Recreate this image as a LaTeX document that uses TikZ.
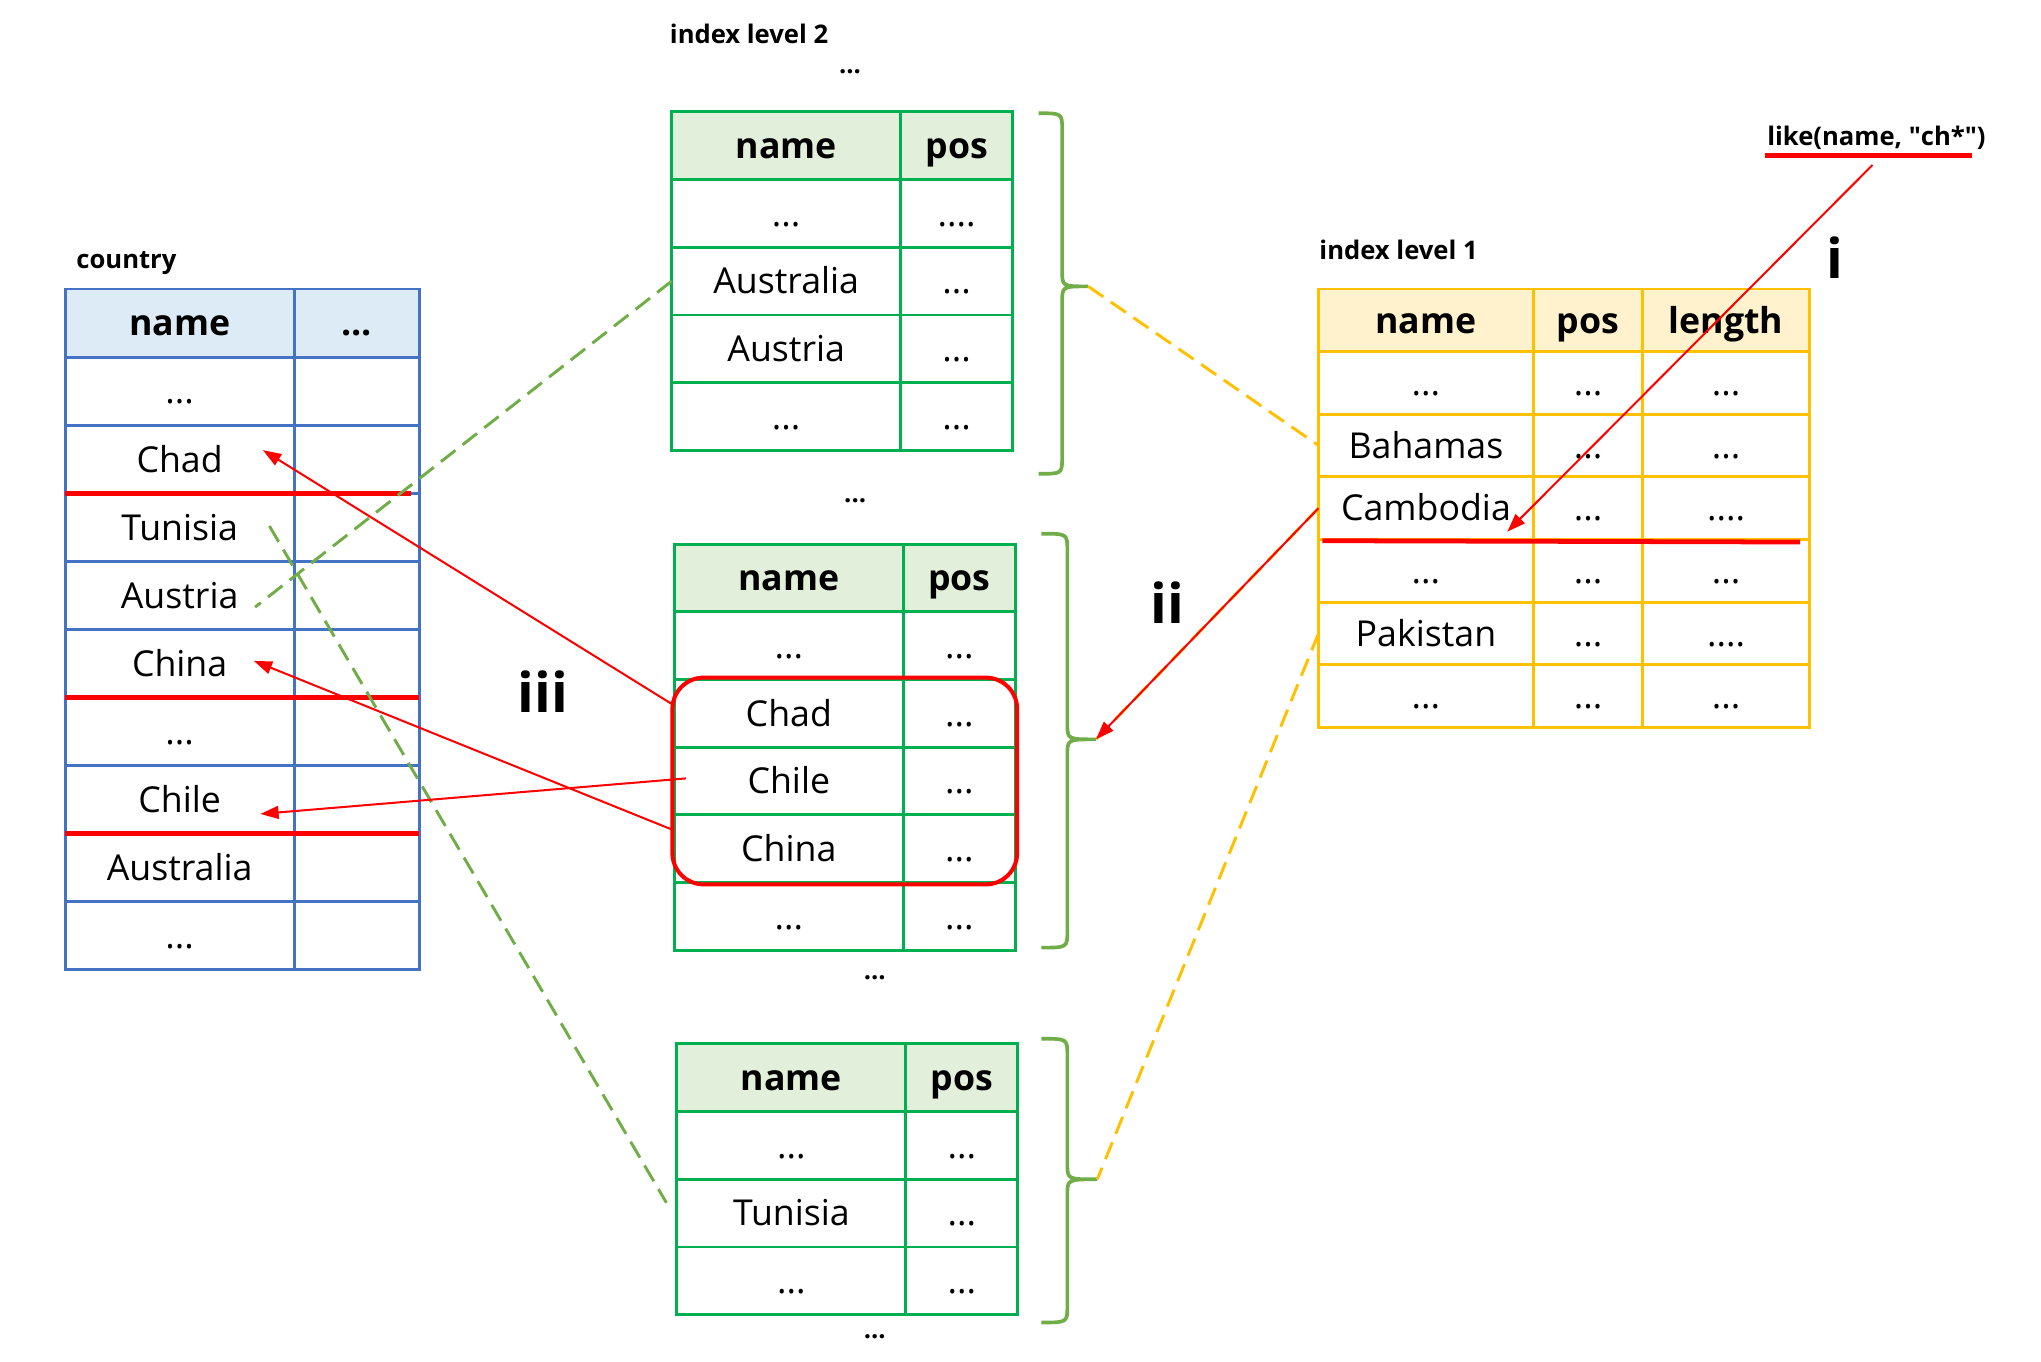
\documentclass[tikz,border=0pt]{standalone}
\usepackage{fontspec}
\setmainfont{Open Sans}
\usetikzlibrary{arrows.meta,calc,fit}

\definecolor{ctryblue}{HTML}{4472C4}
\definecolor{ctryfill}{HTML}{DDEBF7}
\definecolor{idxgreen}{HTML}{00B050}
\definecolor{idxgfill}{HTML}{E2EFDA}
\definecolor{idxyellow}{HTML}{FFC000}
\definecolor{idxyfill}{HTML}{FFF2CC}
\definecolor{bracegreen}{HTML}{70AD47}

\newcommand{\cellfont}{\fontsize{19.5}{24}\selectfont}
\newcommand{\labfont}{\fontsize{14}{17}\selectfont\bfseries}
\newcommand{\stepfont}{\fontsize{30}{36}\selectfont\bfseries}

\tikzset{
  cell/.style={draw, rectangle, inner sep=0pt, outer sep=0pt, line width=1.6pt,
    font=\cellfont, text height=15pt, text depth=1pt},
  ctry/.style={cell, draw=ctryblue, minimum height=1.3075cm},
  ctryhd/.style={ctry, fill=ctryfill, font=\cellfont\bfseries},
  lvltwo/.style={cell, draw=idxgreen, minimum height=1.3cm},
  lvltwohd/.style={lvltwo, fill=idxgfill, font=\cellfont\bfseries},
  lvlone/.style={cell, draw=idxyellow, minimum height=1.2025cm},
  lvlonehd/.style={lvlone, fill=idxyfill, font=\cellfont\bfseries},
  colname/.style={minimum width=4.4cm},
  colrest/.style={minimum width=2.4cm},
  colpos/.style={minimum width=2.15cm},
  lonename/.style={minimum width=4.125cm},
  lonepos/.style={minimum width=2.1cm},
  lonelen/.style={minimum width=3.2cm},
  lab/.style={font=\labfont, inner sep=1pt},
  steplab/.style={font=\stepfont, inner sep=1pt},
  selbox/.style={draw=red, line width=2.2pt, rounded corners=0.6cm, inner sep=1pt},
  redarrow/.style={draw=red, line width=1.1pt, -{Triangle[length=10pt,width=7pt]}},
  redline/.style={draw=red, line width=2.6pt},
  gdash/.style={draw=bracegreen, line width=1.6pt, dash pattern=on 10pt off 5pt},
  ydash/.style={draw=idxyellow, line width=1.6pt, dash pattern=on 10pt off 5pt},
  brc/.style={draw=bracegreen, line width=2pt},
}

\begin{document}
\begin{tikzpicture}[x=0.025cm, y=-0.025cm]
\useasboundingbox (0,0) rectangle (1568,1045.6);

% country table
\node[lab, anchor=west] (ctry-lab) at (57,202) {country};
\node[ctryhd, colname] (ctry-hd) at (138,248.2) {name};
\node[ctryhd, colrest] (ctry-hd-r) at (274,248.2) {...};
\node[ctry, colname] (ctry-d1) at (138,300.5) {...};
\node[ctry, colrest] (ctry-d1-r) at (274,300.5) {};
\node[ctry, colname] (ctry-chad) at (138,352.8) {Chad};
\node[ctry, colrest] (ctry-chad-r) at (274,352.8) {};
\node[ctry, colname] (ctry-tunisia) at (138,405.1) {Tunisia};
\node[ctry, colrest] (ctry-tunisia-r) at (274,405.1) {};
\node[ctry, colname] (ctry-austria) at (138,457.4) {Austria};
\node[ctry, colrest] (ctry-austria-r) at (274,457.4) {};
\node[ctry, colname] (ctry-china) at (138,509.7) {China};
\node[ctry, colrest] (ctry-china-r) at (274,509.7) {};
\node[ctry, colname] (ctry-d2) at (138,562.0) {...};
\node[ctry, colrest] (ctry-d2-r) at (274,562.0) {};
\node[ctry, colname] (ctry-chile) at (138,614.3) {Chile};
\node[ctry, colrest] (ctry-chile-r) at (274,614.3) {};
\node[ctry, colname] (ctry-australia) at (138,666.6) {Australia};
\node[ctry, colrest] (ctry-australia-r) at (274,666.6) {};
\node[ctry, colname] (ctry-d3) at (138,718.9) {...};
\node[ctry, colrest] (ctry-d3-r) at (274,718.9) {};

% index level 2, first block
\node[lab, anchor=west] (lvl2-lab) at (513,26) {index level 2};
\node[lab] (lvl2-dots0) at (653,55) {...};
\node[lvltwohd, colname] (a-hd) at (604,112) {name};
\node[lvltwohd, colpos] (a-hd-r) at (735,112) {pos};
\node[lvltwo, colname] (a-d1) at (604,164) {...};
\node[lvltwo, colpos] (a-d1-r) at (735,164) {....};
\node[lvltwo, colname] (a-australia) at (604,216) {Australia};
\node[lvltwo, colpos] (a-australia-r) at (735,216) {...};
\node[lvltwo, colname] (a-austria) at (604,268) {Austria};
\node[lvltwo, colpos] (a-austria-r) at (735,268) {...};
\node[lvltwo, colname] (a-d2) at (604,320) {...};
\node[lvltwo, colpos] (a-d2-r) at (735,320) {...};
\node[lab] (lvl2-dots1) at (657,385) {...};

% index level 2, second block
\node[lvltwohd, colname] (b-hd) at (606,444) {name};
\node[lvltwohd, colpos] (b-hd-r) at (737,444) {pos};
\node[lvltwo, colname] (b-d1) at (606,496) {...};
\node[lvltwo, colpos] (b-d1-r) at (737,496) {...};
\node[lvltwo, colname] (b-chad) at (606,548) {Chad};
\node[lvltwo, colpos] (b-chad-r) at (737,548) {...};
\node[lvltwo, colname] (b-chile) at (606,600) {Chile};
\node[lvltwo, colpos] (b-chile-r) at (737,600) {...};
\node[lvltwo, colname] (b-china) at (606,652) {China};
\node[lvltwo, colpos] (b-china-r) at (737,652) {...};
\node[lvltwo, colname] (b-d2) at (606,704) {...};
\node[lvltwo, colpos] (b-d2-r) at (737,704) {...};
\node[lab] (lvl2-dots2) at (672,751) {...};
\node[selbox, fit=(b-chad)(b-china-r)] (chosen) {};

% index level 2, third block
\node[lvltwohd, colname] (c-hd) at (608,828) {name};
\node[lvltwohd, colpos] (c-hd-r) at (739,828) {pos};
\node[lvltwo, colname] (c-d1) at (608,880) {...};
\node[lvltwo, colpos] (c-d1-r) at (739,880) {...};
\node[lvltwo, colname] (c-tunisia) at (608,932) {Tunisia};
\node[lvltwo, colpos] (c-tunisia-r) at (739,932) {...};
\node[lvltwo, colname] (c-d2) at (608,984) {...};
\node[lvltwo, colpos] (c-d2-r) at (739,984) {...};
\node[lab] (lvl2-dots3) at (672,1027) {...};

% braces
\draw[brc] (798,87) .. controls (816,87) .. (816,100) -- (816,208) .. controls (816,220) .. (836,220) coordinate (tipA) .. controls (816,220) .. (816,232) -- (816,351) .. controls (816,364) .. (798,364);
\draw[brc] (800,410) .. controls (820,410) .. (820,423) -- (820,556) .. controls (820,568) .. (842,568) coordinate (tipB) .. controls (820,568) .. (820,580) -- (820,715) .. controls (820,728) .. (800,728);
\draw[brc] (800,798) .. controls (820,798) .. (820,811) -- (820,894) .. controls (820,906) .. (843,906) coordinate (tipC) .. controls (820,906) .. (820,918) -- (820,1003) .. controls (820,1016) .. (800,1016);

% index level 1
\node[lab, anchor=west] (lvl1-lab) at (1012,192) {index level 1};
\node[lvlonehd, lonename] (l1-hd) at (1095.5,246.05) {name};
\node[lvlonehd, lonepos] (l1-hd-p) at (1220,246.05) {pos};
\node[lvlonehd, lonelen] (l1-hd-l) at (1326,246.05) {length};
\node[lvlone, lonename] (l1-d1) at (1095.5,294.15) {...};
\node[lvlone, lonepos] (l1-d1-p) at (1220,294.15) {...};
\node[lvlone, lonelen] (l1-d1-l) at (1326,294.15) {...};
\node[lvlone, lonename] (l1-bahamas) at (1095.5,342.25) {Bahamas};
\node[lvlone, lonepos] (l1-bahamas-p) at (1220,342.25) {...};
\node[lvlone, lonelen] (l1-bahamas-l) at (1326,342.25) {...};
\node[lvlone, lonename] (l1-cambodia) at (1095.5,390.35) {Cambodia};
\node[lvlone, lonepos] (l1-cambodia-p) at (1220,390.35) {...};
\node[lvlone, lonelen] (l1-cambodia-l) at (1326,390.35) {....};
\node[lvlone, lonename] (l1-d2) at (1095.5,438.45) {...};
\node[lvlone, lonepos] (l1-d2-p) at (1220,438.45) {...};
\node[lvlone, lonelen] (l1-d2-l) at (1326,438.45) {...};
\node[lvlone, lonename] (l1-pakistan) at (1095.5,486.55) {Pakistan};
\node[lvlone, lonepos] (l1-pakistan-p) at (1220,486.55) {...};
\node[lvlone, lonelen] (l1-pakistan-l) at (1326,486.55) {....};
\node[lvlone, lonename] (l1-d3) at (1095.5,534.65) {...};
\node[lvlone, lonepos] (l1-d3-p) at (1220,534.65) {...};
\node[lvlone, lonelen] (l1-d3-l) at (1326,534.65) {...};

% query and step labels
\node[lab, anchor=west] (query) at (1356,106) {like(name, \textquotedbl ch*\textquotedbl)};
\node[steplab] (step-i) at (1410,198) {i};
\node[steplab] (step-ii) at (897,463) {ii};
\node[steplab] (step-iii) at (417,531) {iii};

% red marks
\draw[redline] ($(query.south west)+(0,3)$) -- ($(query.south east)+(-12,3)$);
\draw[redline] (ctry-chad.south west) -- ($(ctry-chad-r.south east)+(-6,0)$);
\draw[redline] (ctry-china.south west) -- (ctry-china-r.south east);
\draw[redline] (ctry-chile.south west) -- (ctry-chile-r.south east);
\draw[redline] ($(l1-cambodia.south west)+(3,1)$) -- ($(l1-cambodia-l.south east)+(-7,2)$);

% dashed links
\draw[gdash] (a-australia.west) -- ($(ctry-austria.center)+(58,9)$);
\draw[gdash] ($(ctry-tunisia.center)+(69,-1)$) -- ($(c-tunisia.west)+(-8,-8)$);
\draw[ydash] (tipA) -- (l1-bahamas.west);
\draw[ydash] (l1-cambodia.west) -- (tipB);
\draw[ydash] (l1-pakistan.west) -- (tipC);

% lookup arrows
\draw[redarrow] ($(query.south)+(-3,10)$) -- ($(l1-cambodia.south east)+(-20,-6)$);
\draw[redarrow] (l1-cambodia.west) -- (tipB);
\draw[redarrow] ($(b-chad.west)+(0,-6)$) -- ($(ctry-chad.center)+(64,-7)$);
\draw[redarrow] ($(b-chile.west)+(9,-2)$) -- ($(ctry-chile.center)+(62,11)$);
\draw[redarrow] ($(b-china.west)+(0,-14)$) -- ($(ctry-china.center)+(57,-2)$);
\end{tikzpicture}
\end{document}
